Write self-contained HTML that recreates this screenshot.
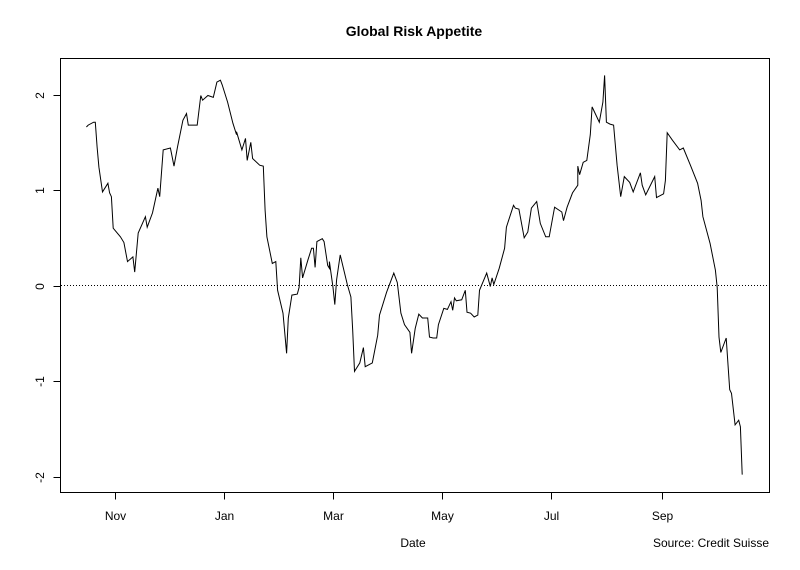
<!DOCTYPE html>
<html><head><meta charset="utf-8"><style>
body{margin:0;background:#fff;}
svg text{font-family:"Liberation Sans",Arial,sans-serif;fill:#000;}
</style></head><body>
<svg id="chart" width="800" height="565" viewBox="0 0 800 565" xmlns="http://www.w3.org/2000/svg">
<rect width="800" height="565" fill="#fff"/>
<text x="414" y="36" text-anchor="middle" font-size="14" font-weight="bold">Global Risk Appetite</text>
<rect x="60.5" y="58.5" width="709" height="434" fill="none" stroke="#000" stroke-width="1"/>
<text x="413" y="547" text-anchor="middle" font-size="12">Date</text>
<text x="769" y="547" text-anchor="end" font-size="12">Source: Credit Suisse</text>
<g id="axes"></g>
<g id="series"></g>
</svg>
<script>
const days=[-16,-15,-12,-11,-10,-9,-7,-4,-3,-2,-1,3,5,7,10,11,13,17,18,21,24,25,27,31,33,35,38,40,41,46,48,49,52,55,57,59,60,63,66,68,68,71,73,74,76,77,81,83,84,85,88,90,91,94,96,97,99,102,103,104,105,108,110,111,112,113,116,117,119,120,120,122,123,124,126,130,132,133,134,137,139,140,144,147,148,152,156,158,160,162,165,166,168,170,172,175,176,178,180,181,184,186,188,189,190,191,194,196,197,199,201,203,204,208,210,211,212,215,218,219,223,224,226,229,231,233,236,238,241,243,246,250,251,253,256,259,259,260,262,264,266,267,270,271,273,274,275,277,279,281,283,285,288,290,294,295,297,302,303,307,308,309,312,316,318,322,326,328,329,333,336,337,338,339,342,344,345,347,349,350,351];
const values=[1.66,1.68,1.71,1.71,1.45,1.24,0.98,1.07,0.97,0.93,0.60,0.51,0.45,0.25,0.30,0.14,0.55,0.72,0.61,0.76,1.02,0.93,1.42,1.44,1.25,1.45,1.73,1.80,1.68,1.68,1.99,1.94,1.99,1.97,2.13,2.15,2.10,1.92,1.70,1.58,1.61,1.42,1.54,1.31,1.50,1.33,1.26,1.25,0.79,0.51,0.23,0.25,-0.05,-0.29,-0.71,-0.34,-0.10,-0.09,-0.02,0.29,0.08,0.27,0.39,0.39,0.19,0.46,0.49,0.46,0.21,0.18,0.25,-0.02,-0.20,0.06,0.32,0.01,-0.12,-0.47,-0.90,-0.81,-0.65,-0.85,-0.81,-0.52,-0.31,-0.07,0.13,0.03,-0.29,-0.41,-0.49,-0.71,-0.45,-0.30,-0.34,-0.34,-0.54,-0.55,-0.55,-0.41,-0.24,-0.25,-0.17,-0.26,-0.13,-0.16,-0.15,-0.05,-0.28,-0.29,-0.33,-0.31,-0.05,0.13,-0.01,0.08,0.01,0.18,0.39,0.61,0.84,0.81,0.80,0.50,0.56,0.81,0.88,0.65,0.51,0.51,0.82,0.77,0.68,0.82,0.97,1.05,1.25,1.16,1.29,1.31,1.58,1.87,1.75,1.71,1.92,2.20,1.71,1.69,1.68,1.26,0.93,1.14,1.08,0.98,1.18,1.05,0.95,1.14,0.92,0.96,1.10,1.60,1.52,1.42,1.44,1.26,1.07,0.89,0.72,0.44,0.16,-0.02,-0.54,-0.70,-0.55,-1.09,-1.13,-1.46,-1.41,-1.48,-1.98];
const xTickLabels=["Nov","Jan","Mar","May","Jul","Sep"];
const xTickDays=[0,61,122,183,244,306];
const yTicks=[-2,-1,0,1,2];

const NS="http://www.w3.org/2000/svg";
const xScale=d=>115+d*1.787;
const yScale=v=>285.5-v*95.5;
function mk(tag,attrs,parent){const e=document.createElementNS(NS,tag);for(const k in attrs)e.setAttribute(k,attrs[k]);parent.appendChild(e);return e;}
const axes=document.getElementById('axes');
const series=document.getElementById('series');

mk('line',{x1:61,x2:769,y1:yScale(0),y2:yScale(0),stroke:'#000','stroke-width':1,'stroke-dasharray':'1,2'},series);



xTickLabels.forEach((lab,i)=>{
  const x=Math.round(xScale(xTickDays[i]))+0.5;
  const t=mk('line',{x1:x,x2:x,y1:492.5,y2:499.5,stroke:'#000'},axes);
  
  
  const tx=mk('text',{x:x,y:520,'text-anchor':'middle','font-size':12},axes);
  tx.textContent=lab;
  
  
});
yTicks.forEach(v=>{
  const y=Math.round(yScale(v))+0.5;
  const t=mk('line',{x1:53.5,x2:60.5,y1:y,y2:y,stroke:'#000'},axes);
  
  
  const tx=mk('text',{x:44,y:y,'text-anchor':'middle','font-size':12,transform:`rotate(-90 44 ${y})`},axes);
  tx.textContent=String(v);
  
  
});
const pts=days.map((d,i)=>xScale(d).toFixed(1)+','+yScale(values[i]).toFixed(1)).join(' ');
const line=mk('polyline',{points:pts,fill:'none',stroke:'#000','stroke-width':1},series);


</script>
</body></html>
